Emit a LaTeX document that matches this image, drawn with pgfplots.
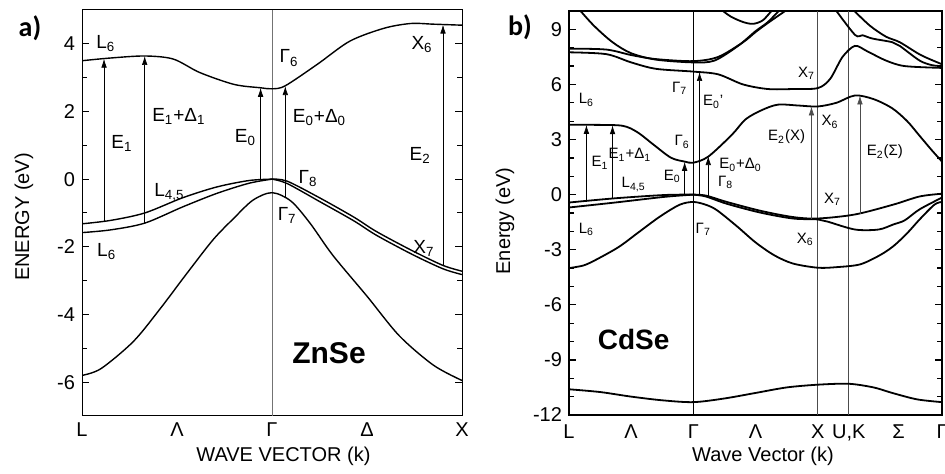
\documentclass[border=0pt]{standalone}
\usepackage{fontspec}
\setmainfont{Liberation Sans}
\newfontfamily\calib{Carlito}
\usepackage{pgfplots}
\pgfplotsset{compat=1.18}
\usetikzlibrary{arrows.meta}

\newcommand{\sub}[1]{\textsubscript{#1}}

\pgfplotsset{
  band/.style={black, line width=0.7pt, smooth, no marks},
  arr/.style={black, line width=0.35pt, no marks, -{Latex[length=4.5pt,width=2.8pt]}},
  vline/.style={black!55, line width=0.35pt, no marks},
}

\begin{document}
\begin{tikzpicture}
\path[use as bounding box] (0,0) rectangle (472.5pt,237pt);

\node[font=\calib\bfseries\fontsize{14}{16}\selectfont] at (15pt,223pt) {a)};
\node[font=\calib\bfseries\fontsize{14}{16}\selectfont] at (260pt,223.5pt) {b)};

% ---------------- a) ZnSe
\begin{axis}[
  at={(41pt,29pt)}, anchor=south west,
  scale only axis, width=190pt, height=203pt,
  xmin=0, xmax=2, ymin=-7, ymax=5,
  xtick={0,0.5,1,1.5,2}, xticklabels={L,Λ,Γ,Δ,X},
  ytick={-6,-4,...,4}, minor ytick={-7,-5,...,5},
  major x tick style={draw=none},
  tick align=inside,
  major tick length=3.5pt, minor tick length=2.5pt,
  axis line style={line width=0.5pt},
  tick style={line width=0.5pt, black},
  ticklabel style={font=\fontsize{10}{11}\selectfont},
  /pgf/number format/assume math mode=true,
  xlabel={WAVE VECTOR (k)}, ylabel={ENERGY (eV)},
  label style={font=\fontsize{10.8}{12}\selectfont},
  every axis x label/.style={at={(rel axis cs:0.53,0)}, yshift=-20pt, anchor=center},
  every axis y label/.style={at={(rel axis cs:0,0.49)}, xshift=-29pt, rotate=90, anchor=center},
]
\addplot[vline] coordinates {(1,-7) (1,5)};
% conduction band
\addplot[band] coordinates {(0,3.5) (0.15,3.58) (0.33,3.64) (0.48,3.55) (0.62,3.15) (0.8,2.8) (0.94,2.7) (1,2.67) (1.07,2.76) (1.24,3.4) (1.41,4.08) (1.59,4.46) (1.73,4.6) (1.85,4.58) (2,4.55)};
% heavy / light holes
\addplot[band] coordinates {(0,-1.32) (0.15,-1.22) (0.33,-1.0) (0.53,-0.55) (0.71,-0.23) (0.88,-0.04) (1,0)};
\addplot[band] coordinates {(0,-1.58) (0.15,-1.5) (0.33,-1.3) (0.53,-0.82) (0.71,-0.42) (0.88,-0.12) (1,0)};
\addplot[band] coordinates {(1,0) (1.08,-0.06) (1.25,-0.55) (1.43,-1.12) (1.55,-1.55) (1.74,-2.12) (1.9,-2.55) (2,-2.72)};
\addplot[band] coordinates {(1,0) (1.08,-0.13) (1.25,-0.66) (1.43,-1.23) (1.55,-1.66) (1.74,-2.23) (1.9,-2.65) (2,-2.82)};
% split-off band
\addplot[band] coordinates {(0,-5.8) (0.1,-5.6) (0.27,-4.8) (0.41,-3.84) (0.55,-2.8) (0.69,-1.79) (0.8,-1.15) (0.9,-0.62) (1,-0.4) (1.1,-0.65) (1.2,-1.3) (1.32,-2.25) (1.5,-3.46) (1.67,-4.63) (1.85,-5.5) (2,-5.95)};
% transitions
\addplot[arr] coordinates {(0.116,-1.24) (0.116,3.56)};
\addplot[arr] coordinates {(0.33,-1.3) (0.33,3.64)};
\addplot[arr] coordinates {(0.94,0) (0.94,2.7)};
\addplot[arr] coordinates {(1.07,-0.52) (1.07,2.75)};
\addplot[arr] coordinates {(1.9,-2.58) (1.9,4.57)};

\begin{scope}[font=\fontsize{9.5}{11}\selectfont]
\node at (axis cs:0.125,4.0) {L\sub{6}};
\node at (axis cs:1.09,3.58) {Γ\sub{6}};
\node at (axis cs:1.79,3.98) {X\sub{6}};
\node at (axis cs:0.21,1.05) {E\sub{1}};
\node at (axis cs:0.51,1.85) {E\sub{1}+Δ\sub{1}};
\node at (axis cs:0.86,1.23) {E\sub{0}};
\node at (axis cs:1.25,1.82) {E\sub{0}+Δ\sub{0}};
\node at (axis cs:1.78,0.7) {E\sub{2}};
\node at (axis cs:0.46,-0.38) {L\sub{4,5}};
\node at (axis cs:1.19,0.03) {Γ\sub{8}};
\node at (axis cs:1.08,-1.08) {Γ\sub{7}};
\node at (axis cs:0.13,-2.14) {L\sub{6}};
\node at (axis cs:1.8,-2.05) {X\sub{7}};
\end{scope}
\node[font=\bfseries\fontsize{15}{17}\selectfont] at (axis cs:1.3,-5.13) {ZnSe};
\end{axis}

% ---------------- b) CdSe
\begin{axis}[
  at={(284.5pt,29.5pt)}, anchor=south west,
  scale only axis, width=186.5pt, height=202pt,
  xmin=0, xmax=3, ymin=-12, ymax=10,
  xtick={0,0.5,1,1.5,2,2.25,2.65,3}, xticklabels={L,Λ,Γ,Λ,X,{U,K},Σ,Γ},
  ytick={-12,-9,...,9}, minor ytick={-11,-10,-8,-7,-5,-4,-2,-1,1,2,4,5,7,8,10},
  major x tick style={draw=none},
  tick align=inside,
  major tick length=3.5pt, minor tick length=2.5pt,
  axis line style={line width=0.9pt},
  tick style={line width=0.6pt, black},
  ticklabel style={font=\fontsize{10}{11}\selectfont},
  xticklabel style={yshift=-1.5pt},
  /pgf/number format/assume math mode=true,
  xlabel={Wave Vector (k)}, ylabel={Energy (eV)},
  label style={font=\fontsize{12.8}{14}\selectfont},
  every axis x label/.style={at={(rel axis cs:0.52,0)}, yshift=-20.5pt, anchor=center},
  every axis y label/.style={at={(rel axis cs:0,0.48)}, xshift=-32pt, rotate=90, anchor=center},
]
\addplot[black, line width=0.5pt] coordinates {(1,-12) (1,10)};
\addplot[black!70, line width=0.5pt] coordinates {(2,-12) (2,10)};
\addplot[black!70, line width=0.5pt] coordinates {(2.25,-12) (2.25,10)};
% upper conduction bands
\addplot[band, line width=0.9pt] coordinates {(0.08,10.1) (0.2,9.2) (0.35,8.3) (0.5,7.7) (0.7,7.35) (1,7.2) (1.17,7.3) (1.36,8.1) (1.5,8.9) (1.6,9.4) (1.7,10.1)};
\addplot[band, line width=0.9pt] coordinates {(0,7.95) (0.3,7.9) (0.5,7.6) (0.7,7.38) (1,7.27) (1.2,7.5) (1.4,8.3) (1.5,8.85) (1.6,9.35) (1.76,10.1)};
\addplot[band, line width=0.9pt] coordinates {(0,7.75) (0.3,7.65) (0.5,7.2) (0.7,6.85) (1,6.7) (1.2,6.55) (1.4,6.0) (1.6,5.75) (1.8,5.75) (2,5.8) (2.1,6.3) (2.2,7.5) (2.3,8.1) (2.4,7.8) (2.55,7.3) (2.7,7.0) (3,6.9)};
\addplot[band, line width=0.9pt] coordinates {(1.22,10.1) (1.3,9.7) (1.4,9.4) (1.48,9.3) (1.56,9.5) (1.64,10.1)};
\addplot[band, line width=0.9pt] coordinates {(2.14,10.1) (2.3,8.7) (2.36,8.68) (2.44,8.5) (2.6,8.3) (2.66,8.1) (2.82,7.3) (2.92,7.05) (3,7.0)};
\addplot[band, line width=0.9pt] coordinates {(2.28,10.1) (2.42,9.2) (2.55,8.6) (2.66,8.3) (2.83,7.6) (3,7.1)};
% lowest conduction band
\addplot[band, line width=0.9pt] coordinates {(0,3.8) (0.2,3.8) (0.43,3.75) (0.55,3.4) (0.68,2.72) (0.82,2.01) (0.93,1.8) (1,1.74) (1.12,2.07) (1.31,3.26) (1.42,4.1) (1.55,4.6) (1.68,4.9) (1.85,4.85) (2,4.8) (2.15,5.0) (2.3,5.4) (2.45,5.2) (2.6,4.7) (2.72,4.0) (2.82,3.2) (2.92,2.4) (3,1.8)};
% valence bands
\addplot[band, line width=0.9pt] coordinates {(0,-0.43) (0.37,-0.2) (0.77,-0.02) (1,0)};
\addplot[band, line width=0.9pt] coordinates {(0,-0.7) (0.37,-0.43) (0.77,-0.12) (1,0)};
\addplot[band, line width=0.9pt] coordinates {(1,0) (1.1,-0.05) (1.27,-0.4) (1.54,-0.88) (1.8,-1.22) (2,-1.3) (2.3,-1.08) (2.61,-0.54) (2.82,-0.1) (3,0.05)};
\addplot[band, line width=0.9pt] coordinates {(1,0) (1.1,-0.1) (1.27,-0.5) (1.54,-0.98) (1.8,-1.3) (2,-1.35) (2.08,-1.47) (2.3,-1.9) (2.49,-1.9) (2.61,-1.62) (2.7,-1.4) (2.82,-0.8) (3,-0.16)};
\addplot[band, line width=0.9pt] coordinates {(0,-4.0) (0.12,-3.85) (0.23,-3.5) (0.4,-2.85) (0.55,-2.1) (0.73,-1.2) (0.89,-0.55) (1,-0.4) (1.1,-0.55) (1.19,-0.85) (1.35,-1.72) (1.5,-2.6) (1.65,-3.3) (1.8,-3.75) (2,-3.98) (2.15,-3.95) (2.34,-3.8) (2.5,-3.3) (2.61,-2.8) (2.72,-2.1) (2.82,-1.35) (2.94,-0.54) (3,-0.4)};
% Se 4s band
\addplot[band, line width=0.9pt] coordinates {(0,-10.6) (0.25,-10.75) (0.5,-11.0) (0.75,-11.2) (1,-11.3) (1.25,-11.1) (1.5,-10.8) (1.75,-10.5) (2,-10.35) (2.25,-10.3) (2.45,-10.5) (2.6,-10.8) (2.8,-11.15) (3,-11.3)};
% transitions
\addplot[arr] coordinates {(0.14,-0.38) (0.14,3.8)};
\addplot[arr] coordinates {(0.35,-0.21) (0.35,3.78)};
\addplot[arr] coordinates {(0.93,-0.02) (0.93,1.79)};
\addplot[arr] coordinates {(1.12,-0.08) (1.12,2.1)};
\addplot[arr] coordinates {(1.05,-0.02) (1.05,6.68)};
\addplot[arr, black!70] coordinates {(1.95,-1.3) (1.95,4.8)};
\addplot[arr, black!70] coordinates {(2.34,-1.05) (2.34,5.4)};

\begin{scope}[font=\fontsize{7.5}{9}\selectfont]
\node at (axis cs:0.14,5.16) {L\sub{6}};
\node at (axis cs:0.89,5.8) {Γ\sub{7}};
\node at (axis cs:1.16,5.05) {E\sub{0}'};
\node at (axis cs:1.91,6.6) {X\sub{7}};
\node at (axis cs:2.1,3.97) {X\sub{6}};
\node at (axis cs:1.75,3.15) {E\sub{2}(X)};
\node at (axis cs:2.54,2.34) {E\sub{2}(Σ)};
\node at (axis cs:0.91,2.88) {Γ\sub{6}};
\node at (axis cs:0.25,1.74) {E\sub{1}};
\node at (axis cs:0.49,2.17) {E\sub{1}+Δ\sub{1}};
\node at (axis cs:0.52,0.55) {L\sub{4,5}};
\node at (axis cs:0.83,0.98) {E\sub{0}};
\node at (axis cs:1.38,1.63) {E\sub{0}+Δ\sub{0}};
\node at (axis cs:1.26,0.66) {Γ\sub{8}};
\node at (axis cs:2.12,-0.27) {X\sub{7}};
\node at (axis cs:0.14,-1.9) {L\sub{6}};
\node at (axis cs:1.08,-1.9) {Γ\sub{7}};
\node at (axis cs:1.9,-2.44) {X\sub{6}};
\end{scope}
\node[font=\bfseries\fontsize{14}{16}\selectfont] at (axis cs:0.52,-7.87) {CdSe};
\end{axis}
\end{tikzpicture}
\end{document}
